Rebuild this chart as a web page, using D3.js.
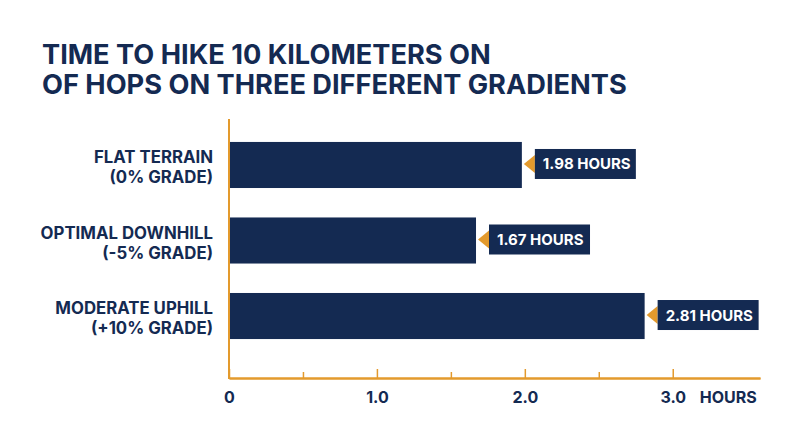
<!DOCTYPE html>
<html>
<head>
<meta charset="utf-8">
<script src="https://cdn.jsdelivr.net/npm/d3@7"></script>
<style>
  html, body { margin: 0; padding: 0; background: #fff; }
  svg { display: block; font-family: Inter, "Noto Sans", sans-serif; }
</style>
</head>
<body>
<svg id="chart" width="800" height="447"></svg>
<script>
const titleLines = ["TIME TO HIKE 10 KILOMETERS ON", "OF HOPS ON THREE DIFFERENT GRADIENTS"];
const categories = ["flat", "downhill", "uphill"];
const labelLines = [
  ["FLAT TERRAIN", "(0% GRADE)"],
  ["OPTIMAL DOWNHILL", "(-5% GRADE)"],
  ["MODERATE UPHILL", "(+10% GRADE)"],
];
const hours = [1.98, 1.67, 2.81];
const majorTicks = [0, 1, 2, 3];
const minorTicks = [0.5, 1.5, 2.5];

const navy = "#142a52";
const orange = "#e39a2d";

const svg = d3.select("#chart");
const margin = { left: 229, right: 40 };
const axisY = 378;

const x = d3.scaleLinear().domain([0, 3.59]).range([margin.left, 800 - margin.right]);
const y = d3.scaleBand().domain(categories).range([112.5, 368.5]).padding(0.39);

const data = categories.map((c, i) => ({ c, v: hours[i], lines: labelLines[i] }));

// title
svg.append("text")
  .attr("x", 42)
  .attr("y", 63.5)
  .attr("fill", navy)
  .attr("font-size", 27.2)
  .attr("font-weight", 700)
  .selectAll("tspan")
  .data(titleLines)
  .join("tspan")
  .attr("x", 42)
  .attr("dy", (d, i) => (i === 0 ? 0 : 30.5))
  .text((d) => d);

// bars
svg.append("g")
  .selectAll("rect")
  .data(data)
  .join("rect")
  .attr("x", x(0))
  .attr("y", (d) => y(d.c))
  .attr("width", (d) => x(d.v) - x(0))
  .attr("height", y.bandwidth())
  .attr("fill", navy);

// category labels
svg.append("g")
  .selectAll("text")
  .data(data)
  .join("text")
  .attr("text-anchor", "end")
  .attr("fill", navy)
  .attr("font-size", 16.8)
  .attr("font-weight", 700)
  .each(function (d) {
    const cy = y(d.c) + y.bandwidth() / 2;
    d3.select(this)
      .selectAll("tspan")
      .data(d.lines)
      .join("tspan")
      .attr("x", 213)
      .attr("y", (l, i) => cy - 2 + i * 20)
      .text((l) => l);
  });

// value callouts
const callouts = svg.append("g")
  .selectAll("g")
  .data(data)
  .join("g")
  .attr("transform", (d) => `translate(${x(d.v)},${y(d.c) + y.bandwidth() / 2 - 1})`);

callouts.append("path")
  .attr("d", "M2,0L13,-9L13,9Z")
  .attr("fill", orange);

callouts.append("rect")
  .attr("x", 13)
  .attr("y", -15)
  .attr("width", 101)
  .attr("height", 30)
  .attr("fill", navy);

callouts.append("text")
  .attr("x", 21)
  .attr("y", 5.5)
  .attr("fill", "#fff")
  .attr("font-size", 15)
  .attr("font-weight", 700)
  .text((d) => `${d.v.toFixed(2)} HOURS`);

// axes
const minorAxis = svg.append("g")
  .attr("transform", `translate(0,${axisY})`)
  .call(d3.axisBottom(x).tickValues(minorTicks).tickSizeInner(-6).tickSizeOuter(0).tickFormat(""));

const majorAxis = svg.append("g")
  .attr("transform", `translate(0,${axisY})`)
  .call(
    d3.axisBottom(x)
      .tickValues(majorTicks)
      .tickSizeInner(-9)
      .tickSizeOuter(0)
      .tickPadding(14)
      .tickFormat((d) => (d === 0 ? "0" : d3.format(".1f")(d)))
  );

[minorAxis, majorAxis].forEach((a) => {
  a.select(".domain").attr("stroke", orange).attr("stroke-width", 2);
  a.selectAll(".tick line").attr("stroke", orange).attr("stroke-width", 1.5);
});

majorAxis.selectAll(".tick text")
  .attr("fill", navy)
  .attr("font-size", 16)
  .attr("font-weight", 700)
  .attr("font-family", "Inter, 'Noto Sans', sans-serif");

svg.append("text")
  .attr("x", x(3) + 27)
  .attr("y", 403)
  .attr("fill", navy)
  .attr("font-size", 16)
  .attr("font-weight", 700)
  .text("HOURS");

// vertical axis line
svg.append("line")
  .attr("x1", x(0))
  .attr("x2", x(0))
  .attr("y1", 119)
  .attr("y2", axisY + 1)
  .attr("stroke", orange)
  .attr("stroke-width", 2);
</script>
</body>
</html>
